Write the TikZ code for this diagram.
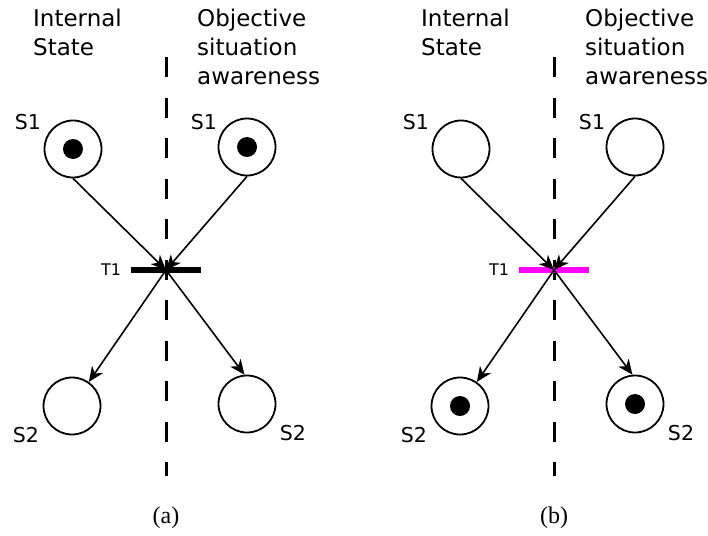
\documentclass[tikz,border=0pt]{standalone}
\usepackage{fontspec}
\setmainfont{Liberation Serif}
\newfontfamily\diafont{DejaVu Sans}
\usetikzlibrary{arrows.meta}
\definecolor{firing}{RGB}{255,0,255}
\begin{document}
\begin{tikzpicture}
  [x=1pt,y=-1pt,
   place/.style={circle,draw=black,line width=1.8pt,minimum size=57pt,inner sep=0pt},
   token/.style={circle,fill=black,minimum size=20pt,inner sep=0pt},
   bar/.style={rectangle,minimum width=70pt,minimum height=6pt,inner sep=0pt},
   lbl/.style={font=\diafont\fontsize{20.5}{24}\selectfont,inner sep=0pt},
   head/.style={font=\diafont\fontsize{23}{29}\selectfont,align=left,anchor=north west,inner sep=0pt},
   arc/.style={line width=1.6pt,-{Stealth[length=15pt,width=13pt,inset=4.5pt]}},
   divider/.style={line width=3pt,dash pattern=on 20pt off 20.5pt}]
  \useasboundingbox (0,0) rectangle (708,535);

  \foreach \p/\dx/\col in {a/0/black,b/388/firing}{
    \begin{scope}[xshift=\dx pt]
      \node[head] (\p-int) at (33,9) {Internal\\State};
      \node[head] (\p-obj) at (197,9) {Objective\\situation\\awareness};

      \node[place] (\p-s1l) at (73,149) {};
      \node[place] (\p-s1r) at (247,147) {};
      \node[place] (\p-s2l) at (72,406) {};
      \node[place] (\p-s2r) at (247,404) {};
      \node[lbl] (\p-s1l-name) at (28,122) {S1};
      \node[lbl] (\p-s1r-name) at (204,122) {S1};
      \node[lbl] (\p-s2l-name) at (26,435) {S2};
      \node[lbl] (\p-s2r-name) at (293,433) {S2};

      \coordinate (\p-top) at (166,57);
      \coordinate (\p-bot) at (166,476);
      \draw[divider] (\p-top) -- (\p-bot);

      \coordinate (\p-t) at (166,270);
      \node[bar,fill=\col] (\p-t1) at (\p-t) {};
      \node[lbl,font=\diafont\fontsize{16}{18}\selectfont] (\p-t1-name) at (111,270) {T1};

      \draw[arc] (\p-s1l.south) -- (\p-t);
      \draw[arc] (\p-s1r.south) -- (\p-t);
      \draw[arc] (\p-t) -- (\p-s2l.55);
      \draw[arc] (\p-t) -- (\p-s2r.95);

      \node[font=\fontsize{24}{28}\selectfont] (\p-cap) at (166,518) {(\p)};
    \end{scope}
  }

  \foreach \n in {a-s1l,a-s1r,b-s2l,b-s2r}
    \node[token] (\n-tok) at (\n) {};
\end{tikzpicture}
\end{document}
